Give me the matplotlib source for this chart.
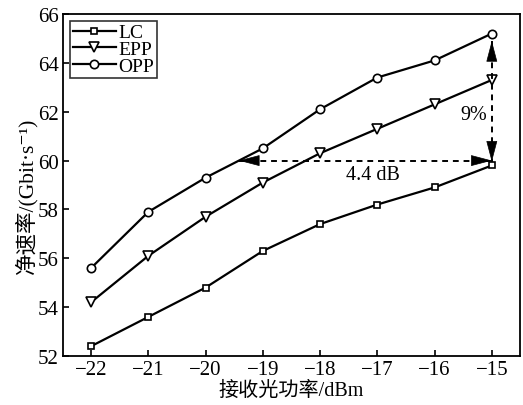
import numpy as np
import matplotlib
matplotlib.use('Agg')
from matplotlib import pyplot as plt

plt.rcParams['font.family'] = ['Liberation Serif', 'Noto Sans CJK SC', 'DejaVu Serif']

# 接收光功率 (dBm)
power = [-22, -21, -20, -19, -18, -17, -16, -15]
lc = [52.4, 53.6, 54.8, 56.3, 57.4, 58.2, 58.9, 59.8]
epp = [54.2, 56.1, 57.7, 59.1, 60.3, 61.3, 62.3, 63.3]
opp = [55.6, 57.9, 59.3, 60.5, 62.1, 63.4, 64.1, 65.2]

# 标注
h_arrow = (-19.42, -15.0, 60.0)    # x_start, x_end, y
v_arrow = (-15.0, 64.9, 59.95)     # x, y_start, y_end
h_label = '4.4 dB'
v_label = '9%'

fig = plt.figure(figsize=(5.23, 4.06), dpi=100)
ax = fig.add_axes([0.1205, 0.1207, 0.8735, 0.8423])

ax.plot(power, lc, color='black', lw=1.6, marker='s', ms=4.2, mfc='white', mew=1.2, label='LC')
ax.plot(power, epp, color='black', lw=1.6, marker='v', ms=6.5, mfc='white', mew=1.2, label='EPP')
ax.plot(power, opp, color='black', lw=1.6, marker='o', ms=6, mfc='white', mew=1.2, label='OPP')


def dashed_arrow(p0, p1):
    # 虚线 + 两端实心箭头
    ax.plot([p0[0], p1[0]], [p0[1], p1[1]], color='black', lw=1.4,
            linestyle=(0, (3, 2.5)))
    d = np.array([p1[0] - p0[0], p1[1] - p0[1]])
    d = np.sign(d) * 14.0  # offset points along the arrow direction
    head = dict(arrowstyle='-|>,head_length=1.37,head_width=0.36', color='black',
                lw=0.5, shrinkA=0, shrinkB=0, mutation_scale=10)
    ax.annotate('', xy=p0, xytext=(d[0], d[1]), textcoords='offset points', arrowprops=head)
    ax.annotate('', xy=p1, xytext=(-d[0], -d[1]), textcoords='offset points', arrowprops=head)


dashed_arrow((h_arrow[0], h_arrow[2]), (h_arrow[1], h_arrow[2]))
dashed_arrow((v_arrow[0], v_arrow[1]), (v_arrow[0], v_arrow[2]))
ax.text(-17.08, 59.45, h_label, fontsize=14.5, ha='center', va='center')
ax.text(-15.32, 61.9, v_label, fontsize=14.5, ha='center', va='center')

ax.set_xlim(-22.49, -14.51)
ax.set_ylim(52, 66)
ax.set_xticks(power)
ax.set_xticklabels(['\u2212' + str(abs(p)) for p in power])
ax.set_yticks(np.arange(52, 67, 2))
ax.tick_params(direction='in', labelsize=15, length=4, width=1.2, pad=3)
for s in ax.spines.values():
    s.set_linewidth(1.3)

ax.set_xlabel('接收光功率/dBm', fontsize=14.5, labelpad=1)
fig.text(0.05, 0.517, '净速率/(Gbit·s\u207b\u00b9)', fontsize=15.5, rotation=90,
         ha='center', va='center')

leg = ax.legend(loc='upper left', fontsize=14, frameon=True, fancybox=False,
                edgecolor='black', handlelength=2.2, handletextpad=0.15,
                labelspacing=-0.05, borderpad=0.15, borderaxespad=0.35)
leg.get_frame().set_linewidth(1.2)

fig.savefig('out.png', dpi=100)
